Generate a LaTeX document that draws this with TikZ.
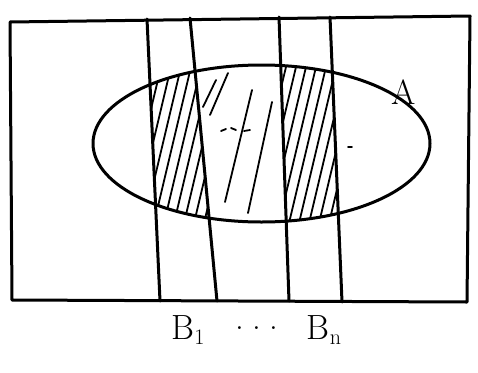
\documentclass[tikz,border=0pt]{standalone}
\usepackage{fontspec}
\usetikzlibrary{positioning}
\newcommand{\sub}[1]{\raisebox{-0.3ex}{\fontsize{22}{24}\selectfont #1}}

\begin{document}
\begin{tikzpicture}[x=1pt, y=-1pt, line cap=round, line join=round,
    edge/.style={draw=black, line width=3pt},
    hatch/.style={draw=black, line width=1.8pt},
    lbl/.style={font=\fontsize{35}{37}\selectfont, inner sep=0pt}]
  \useasboundingbox (0,0) rectangle (478,372);

  % outer box
  \coordinate (tl) at (10,22);
  \coordinate (tr) at (470,16);
  \coordinate (br) at (467,302);
  \coordinate (bl) at (12,300);
  \draw[edge] (tl) -- (tr) -- (br) -- (bl) -- cycle;

  % strip borders
  \coordinate (s1t) at (147,19);  \coordinate (s1b) at (160,301);
  \coordinate (s2t) at (190,18);  \coordinate (s2b) at (217,301);
  \coordinate (s3t) at (279,17);  \coordinate (s3b) at (289,301);
  \coordinate (s4t) at (330,17);  \coordinate (s4b) at (342,302);

  % hatching of the pieces of A
  \begin{scope}
    \clip (261.5,143.5) ellipse [x radius=168.5, y radius=78.5];
    \clip (s1t) -- (s2t) -- (s2b) -- (s1b) -- cycle;
    \foreach \x in {100,110,...,230}
      \draw[hatch] (\x,240) -- ++(45,-190);
  \end{scope}
  \begin{scope}
    \clip (261.5,143.5) ellipse [x radius=168.5, y radius=78.5];
    \clip (s3t) -- (s4t) -- (s4b) -- (s3b) -- cycle;
    \foreach \x in {235,245,...,350}
      \draw[hatch] (\x,240) -- ++(45,-190);
  \end{scope}
  \draw[hatch] (228,73) -- (210,115);
  \draw[hatch] (216,80) -- (203,107);
  \draw[hatch] (252,90) -- (225,202);
  \draw[hatch] (272,102) -- (248,213);
  \draw[hatch] (221,131) -- (226,129);
  \draw[hatch] (231,128) -- (236,130);
  \draw[hatch] (244,131) -- (250,130);
  \draw[hatch] (348,147) -- (352,147);

  % the set A
  \draw[edge] (261.5,143.5) ellipse [x radius=168.5, y radius=78.5];
  \node[lbl] (A) at (404,92) {A};

  \draw[edge] (s1t) -- (s1b);
  \draw[edge] (s2t) -- (s2b);
  \draw[edge] (s3t) -- (s3b);
  \draw[edge] (s4t) -- (s4b);

  \node[lbl] (b1) at (188,330) {B\sub{1}};
  \node[lbl] (dots) at (257,328) {.\hspace{8pt}.\hspace{8pt}.};
  \node[lbl] (bn) at (324,330) {B\sub{n}};
\end{tikzpicture}
\end{document}
